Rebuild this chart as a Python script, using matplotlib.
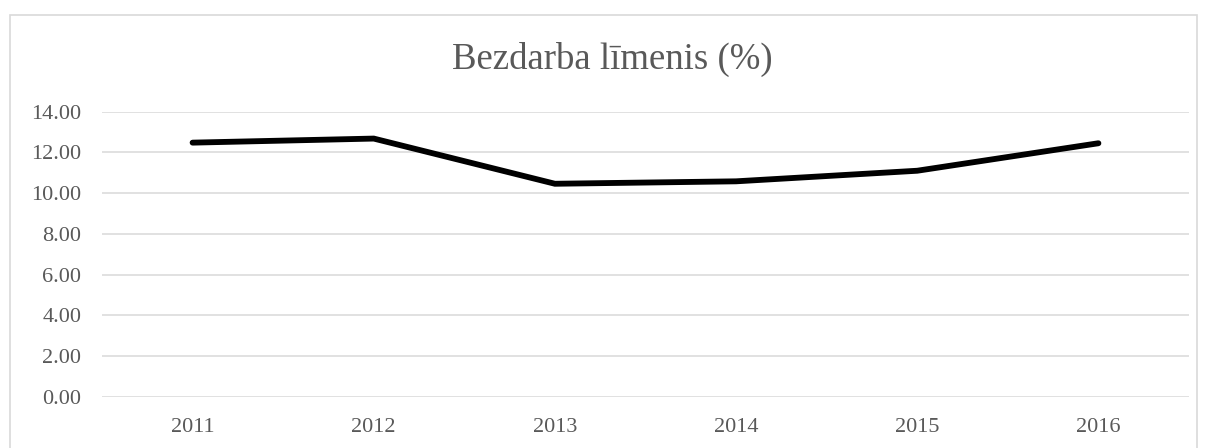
import matplotlib
matplotlib.use("Agg")
import matplotlib.pyplot as plt
from matplotlib.patches import Rectangle

# Bezdarba līmenis pa gadiem
years = ["2011", "2012", "2013", "2014", "2015", "2016"]
rate = [12.48, 12.68, 10.46, 10.58, 11.10, 12.45]
y_ticks = [0, 2, 4, 6, 8, 10, 12, 14]

plt.rcParams["font.family"] = ["Liberation Serif", "DejaVu Serif"]
W, H = 1205, 448

fig = plt.figure(figsize=(W / 100, H / 100), dpi=100)
# chart area border (light gray, runs past bottom edge)
fig.patches.append(Rectangle((10 / W, -0.1), (1197 - 10) / W, 1.1 - 15 / H,
                             transform=fig.transFigure, fill=False,
                             edgecolor="#d9d9d9", linewidth=1.2))

ax = fig.add_axes([102 / W, (H - 396.7) / H, (1189 - 102) / W, (396.7 - 111.7) / H])
x = list(range(len(years)))
ax.plot(x, rate, color="black", linewidth=4.2, solid_capstyle="round",
        solid_joinstyle="miter", zorder=3)

ax.set_xlim(-0.5, len(years) - 0.5)
ax.set_ylim(0, 14)
ax.set_yticks(y_ticks)
ax.set_yticklabels([f"{v:.2f}" for v in y_ticks])
ax.set_xticks(x)
ax.set_xticklabels(years)
ax.grid(axis="y", color="#d9d9d9", linewidth=1.1)
ax.set_axisbelow(True)
for s in ax.spines.values():
    s.set_visible(False)
ax.tick_params(axis="both", length=0, labelsize=16, colors="#595959")
ax.tick_params(axis="y", pad=15)
ax.tick_params(axis="x", pad=15.5)

fig.text(612 / W, (H - 69) / H, "Bezdarba līmenis (%)", ha="center", va="baseline",
         fontsize=26.5, color="#595959")

fig.savefig("out.png", dpi=100)
